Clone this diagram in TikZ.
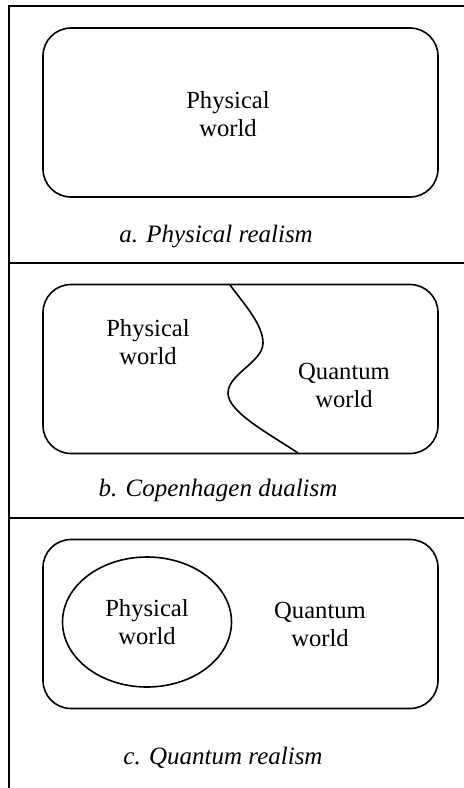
\documentclass[tikz,border=0pt]{standalone}
\usepackage{fontspec}
\setmainfont{Liberation Serif}
\usetikzlibrary{positioning,shapes.geometric}
\tikzset{
  frameline/.style={line width=1.3pt},
  worldbox/.style={draw,rounded corners=14pt,line width=0.8pt,
    minimum width=197.5pt,minimum height=84.5pt,inner sep=0pt},
  worldlabel/.style={align=center,font=\fontsize{12.3}{14}\selectfont},
  physblob/.style={ellipse,draw,line width=0.8pt,minimum width=84.5pt,
    minimum height=65pt,inner sep=0pt,align=center,
    font=\fontsize{12.3}{14}\selectfont},
  caption/.style={font=\fontsize{12.5}{15}\selectfont\itshape},
  cutline/.style={line width=0.8pt}
}

\begin{document}
\begin{tikzpicture}[x=0.5pt,y=-0.5pt]
  \useasboundingbox (0,0) rectangle (464,788);
  % frame
  \draw[frameline] (9,788) -- (9,6) -- (464,6);
  \draw[frameline] (9,263) -- (464,263);
  \draw[frameline] (9,518) -- (464,518);
  % a. physical realism
  \node[worldbox] (boxA) at (240.5,112.5) {};
  \node[worldlabel] (physA) at (228,114) {Physical\\world};
  \node[caption] (capA) at (216,237) {a. Physical realism};
  % b. copenhagen dualism
  \node[worldbox] (boxB) at (240.5,369) {};
  \coordinate (cutTop) at (230,285);
  \coordinate (cutBot) at (298,453);
  \draw[cutline] (cutTop) .. controls (245,305) and (263,325) .. (263,343)
    .. controls (263,362) and (228,374) .. (228,393)
    .. controls (228,412) and (268,433) .. (cutBot);
  \node[worldlabel] (physB) at (148,342) {Physical\\world};
  \node[worldlabel] (quantB) at (344,385) {Quantum\\world};
  \node[caption] (capB) at (218,490) {b. Copenhagen dualism};
  % c. quantum realism
  \node[worldbox] (boxC) at (240.5,624) {};
  \node[physblob] (physC) at (147,622) {Physical\\world};
  \node[worldlabel] (quantC) at (320,624) {Quantum\\world};
  \node[caption] (capC) at (223,758) {c. Quantum realism};
\end{tikzpicture}
\end{document}
